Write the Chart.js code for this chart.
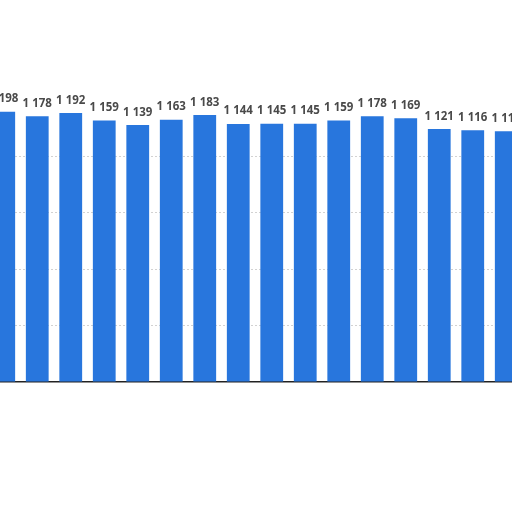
<!DOCTYPE html>
<html>
<head>
<meta charset="utf-8">
<script src="https://cdn.jsdelivr.net/npm/chart.js@4"></script>
<style>
html,body{margin:0;padding:0;width:512px;height:512px;overflow:hidden;background:#fff;}
#wrap{position:absolute;left:-13px;top:0;width:536px;height:512px;}
</style>
</head>
<body>
<div id="wrap"><canvas id="c" width="536" height="512"></canvas></div>
<script>
const categories = ["1","2","3","4","5","6","7","8","9","10","11","12","13","14","15","16"];
const values = [1198,1178,1192,1159,1139,1163,1183,1144,1145,1145,1159,1178,1169,1121,1116,1112];
const yTicks = [0,250,500,750,1000,1250];

function fmt(v){ return String(v).replace(/\B(?=(\d{3})+(?!\d))/g,' '); }

const labelPlugin = {
  id:'barLabels',
  afterDatasetsDraw(chart){
    const ctx = chart.ctx;
    const meta = chart.getDatasetMeta(0);
    ctx.save();
    ctx.font = "bold 11.5px 'Open Sans'";
    ctx.fillStyle = '#4a4a4a';
    ctx.textAlign = 'center';
    ctx.textBaseline = 'bottom';
    meta.data.forEach((bar,i)=>{
      ctx.fillText(fmt(values[i]), bar.x, bar.y - 7);
    });
    ctx.restore();
  }
};

new Chart(document.getElementById('c'), {
  type:'bar',
  data:{
    labels:categories,
    datasets:[{data:values, backgroundColor:'#2876dd', borderWidth:0,
      categoryPercentage:1, barPercentage:0.68}]
  },
  options:{
    responsive:false,
    animation:false,
    layout:{padding:{top:100,bottom:130,left:0,right:0}},
    plugins:{legend:{display:false},tooltip:{enabled:false}},
    scales:{
      x:{
        display:true,
        ticks:{display:false},
        grid:{display:false,drawTicks:false},
        border:{display:true,color:'#222',width:1.5},
        afterFit(s){s.height=0;}
      },
      y:{
        min:0,max:1250,
        afterBuildTicks(s){s.ticks = yTicks.map(v=>({value:v}));},
        ticks:{display:false},
        grid:{drawTicks:false,
          color:(c)=> (c.tick && (c.tick.value===0||c.tick.value===1250)) ? 'rgba(0,0,0,0)' : '#d2d2d2',
          lineWidth:1},
        border:{display:false,dash:[2,2]},
        afterFit(s){s.width=0;}
      }
    }
  },
  plugins:[labelPlugin]
});
</script>
</body>
</html>
